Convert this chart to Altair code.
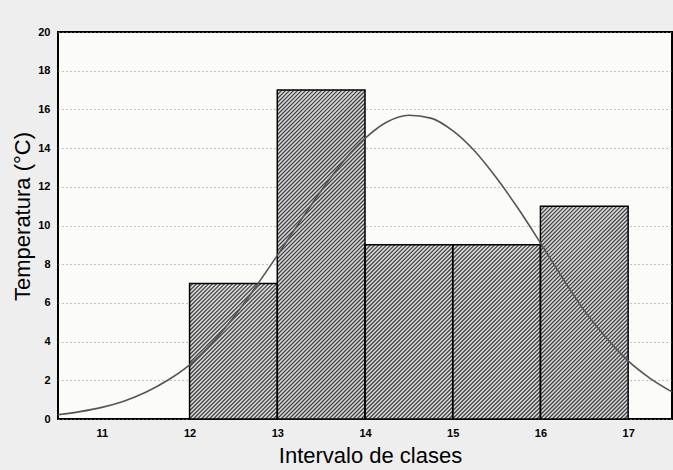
import altair as alt
import pandas as pd

# ---- data ----
bin_start = [12, 13, 14, 15, 16]
bin_end = [13, 14, 15, 16, 17]
counts = [7, 17, 9, 9, 11]

curve_x = [10.5, 10.75, 11.0, 11.25, 11.5, 11.75, 12.0, 12.25, 12.5, 12.75,
           13.0, 13.25, 13.5, 13.75, 14.0, 14.25, 14.5, 14.75, 15.0, 15.25,
           15.5, 15.75, 16.0, 16.25, 16.5, 16.75, 17.0, 17.25, 17.5]
curve_y = [0.22, 0.38, 0.6, 0.92, 1.38, 2.0, 2.8, 3.9, 5.25, 6.8,
           8.45, 10.15, 11.8, 13.3, 14.5, 15.35, 15.7, 15.55, 14.9, 13.85,
           12.45, 10.85, 9.1, 7.3, 5.6, 4.2, 3.0, 2.1, 1.4]

y_ticks = list(range(0, 21, 2))
x_ticks = [11, 12, 13, 14, 15, 16, 17]

# ---- layout ----
W, H = 614, 387
X0, X1 = 10.5, 17.5
Y0, Y1 = 0, 20
px_x = W / (X1 - X0)
px_y = H / (Y1 - Y0)

bars = pd.DataFrame({"start": bin_start, "end": bin_end, "count": counts})
curve = pd.DataFrame({"x": curve_x, "y": curve_y})

# hatch segments derived from bar data (style only)
spacing = 4.0
segs = []
for s, e, c in zip(bin_start, bin_end, counts):
    Wb = (e - s) * px_x
    Hb = c * px_y
    off = -Wb
    while off < Hb:
        xa = max(0.0, -off)
        xb = min(Wb, Hb - off)
        if xb > xa:
            segs.append({"x": s + xa / px_x, "y": (xa + off) / px_y,
                         "x2": s + xb / px_x, "y2": (xb + off) / px_y})
        off += spacing
hatch = pd.DataFrame(segs)

xscale = alt.Scale(domain=[X0, X1], nice=False, zero=False)
yscale = alt.Scale(domain=[Y0, Y1], nice=False)

xaxis = alt.Axis(values=x_ticks, format="d", title="Intervalo de clases", grid=False,
                 domain=False, ticks=False, labelPadding=8, labelOverlap=False,
                 labelFont="Liberation Sans", labelFontWeight="bold", labelFontSize=11,
                 labelColor="black", titleFont="Liberation Sans", titleFontSize=22,
                 titleFontWeight="normal", titleColor="black", titlePadding=7,
                 titleX=312)
yaxis = alt.Axis(values=y_ticks, format="d", title="Temperatura (°C)", grid=True,
                 gridDash=[1, 3], gridColor="#8a8a8a", gridWidth=1,
                 domain=False, ticks=False, labelPadding=8, labelOverlap=False,
                 labelFont="Liberation Sans", labelFontWeight="bold", labelFontSize=11,
                 labelColor="black", titleFont="Liberation Sans", titleFontSize=22,
                 titleFontWeight="normal", titleColor="black", titlePadding=3,
                 titleY=184)

bar_fill = alt.Chart(bars).mark_rect(fill="#dadada", stroke=None).encode(
    x=alt.X("start:Q", scale=xscale, axis=xaxis),
    x2="end:Q",
    y=alt.Y("count:Q", scale=yscale, axis=yaxis),
    y2=alt.datum(0),
)

hatch_layer = alt.Chart(hatch).mark_rule(color="#404040", strokeWidth=1.2).encode(
    x=alt.X("x:Q", scale=xscale, axis=xaxis),
    x2="x2:Q",
    y=alt.Y("y:Q", scale=yscale, axis=yaxis),
    y2="y2:Q",
)

bar_outline = alt.Chart(bars).mark_rect(fill=None, stroke="black", strokeWidth=1.5).encode(
    x=alt.X("start:Q", scale=xscale, axis=xaxis),
    x2="end:Q",
    y=alt.Y("count:Q", scale=yscale, axis=yaxis),
    y2=alt.datum(0),
)

line = alt.Chart(curve).mark_line(color="#555555", strokeWidth=1.6,
                                  interpolate="monotone").encode(
    x=alt.X("x:Q", scale=xscale, axis=xaxis),
    y=alt.Y("y:Q", scale=yscale, axis=yaxis),
)

chart = alt.layer(bar_fill, hatch_layer, bar_outline, line).properties(
    width=W, height=H,
    autosize=alt.AutoSizeParams(type="none"),
    padding={"left": 58, "top": 32, "right": 1, "bottom": 51},
    background="#eeeeee",
).configure_view(
    fill="#fbfbf8", stroke="black", strokeWidth=2
)

chart.save("out.html", embed_options={"renderer": "svg", "actions": False})
